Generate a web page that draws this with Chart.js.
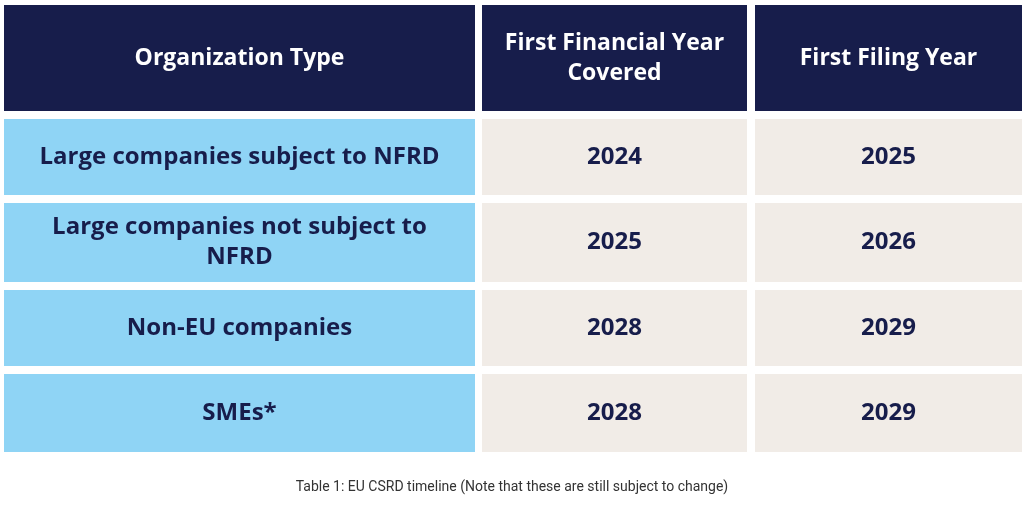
<!DOCTYPE html>
<html>
<head>
<meta charset="utf-8">
<script src="https://cdn.jsdelivr.net/npm/chart.js@4"></script>
<style>
  html, body { margin: 0; padding: 0; background: #fff; }
  #wrap { width: 1024px; height: 512px; }
</style>
</head>
<body>
<div id="wrap"><canvas id="tableChart"></canvas></div>
<script>
// table content
const headers = [["Organization Type"], ["First Financial Year", "Covered"], ["First Filing Year"]];
const orgTypes = [
  ["Large companies subject to NFRD"],
  ["Large companies not subject to", "NFRD"],
  ["Non-EU companies"],
  ["SMEs*"]
];
const financialYears = ["2024", "2025", "2028", "2028"];
const filingYears = ["2025", "2026", "2029", "2029"];
const caption = "Table 1: EU CSRD timeline (Note that these are still subject to change)";

// grid layout in scale units
const colEdges = [[4, 475], [482, 747], [755, 1022]];
const rowEdges = [[5, 111], [119, 195], [203, 282], [290, 366], [374, 452]];

const navy = "#171d4b";
const blue = "#8fd4f5";
const beige = "#f1ece7";

const tablePlugin = {
  id: "tableCells",
  afterDraw(chart) {
    const { ctx, scales: { x, y } } = chart;
    const cell = (c, r, fill, lines, color, font) => {
      const x0 = x.getPixelForValue(colEdges[c][0]), x1 = x.getPixelForValue(colEdges[c][1]);
      const y0 = y.getPixelForValue(rowEdges[r][0]), y1 = y.getPixelForValue(rowEdges[r][1]);
      ctx.fillStyle = fill;
      ctx.fillRect(x0, y0, x1 - x0, y1 - y0);
      ctx.fillStyle = color;
      ctx.font = font;
      ctx.textAlign = "center";
      ctx.textBaseline = "middle";
      const lh = 30, cx = (x0 + x1) / 2, cy = (y0 + y1) / 2;
      lines.forEach((t, i) => ctx.fillText(t, cx, cy + (i - (lines.length - 1) / 2) * lh));
    };
    ctx.save();
    const hf = "bold 23px 'Open Sans', sans-serif";
    const bf = "bold 24px 'Open Sans', sans-serif";
    headers.forEach((h, c) => cell(c, 0, navy, h, "#ffffff", hf));
    orgTypes.forEach((o, i) => {
      cell(0, i + 1, blue, o, navy, bf);
      cell(1, i + 1, beige, [financialYears[i]], navy, bf);
      cell(2, i + 1, beige, [filingYears[i]], navy, bf);
    });
    ctx.fillStyle = "#333";
    ctx.font = "14px 'Roboto', sans-serif";
    ctx.textAlign = "center";
    ctx.fillText(caption, x.getPixelForValue(512), y.getPixelForValue(487));
    ctx.restore();
  }
};

new Chart(document.getElementById("tableChart"), {
  type: "scatter",
  data: { datasets: [{ data: [] }] },
  options: {
    responsive: true,
    maintainAspectRatio: false,
    animation: false,
    layout: { padding: 0 },
    plugins: { legend: { display: false }, tooltip: { enabled: false } },
    scales: {
      x: { type: "linear", min: 0, max: 1024, display: false },
      y: { type: "linear", min: 0, max: 512, reverse: true, display: false }
    }
  },
  plugins: [tablePlugin]
});
</script>
</body>
</html>
